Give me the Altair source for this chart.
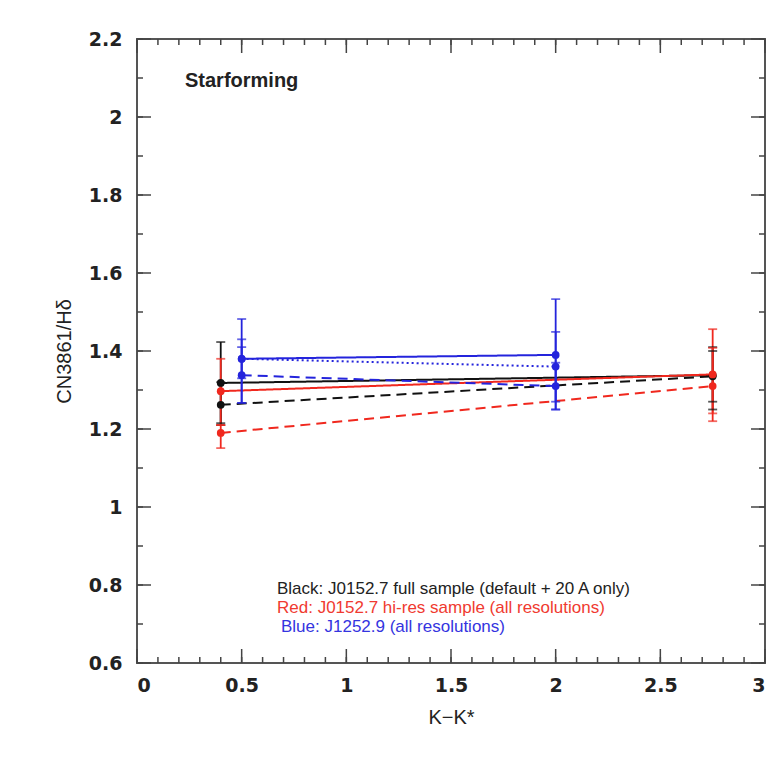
import altair as alt
import pandas as pd

# ---------------- data ----------------
black_x = [0.4, 2.75]
black_solid_y = [1.318, 1.338]
black_solid_lo = [1.215, 1.27]
black_solid_hi = [1.423, 1.41]
black_dashed_y = [1.262, 1.335]
black_dashed_lo = [1.21, 1.25]
black_dashed_hi = [1.32, 1.40]

red_x = [0.4, 2.75]
red_solid_y = [1.297, 1.34]
red_solid_lo = [1.21, 1.22]
red_solid_hi = [1.38, 1.456]
red_dashed_y = [1.19, 1.31]
red_dashed_lo = [1.151, 1.24]
red_dashed_hi = [1.21, 1.408]

blue_x = [0.5, 2.0]
blue_solid_y = [1.38, 1.39]
blue_solid_lo = [1.267, 1.25]
blue_solid_hi = [1.482, 1.533]
blue_dotted_y = [1.38, 1.36]
blue_dotted_lo = [1.33, 1.27]
blue_dotted_hi = [1.43, 1.449]
blue_dashed_y = [1.338, 1.31]
blue_dashed_lo = [1.267, 1.25]
blue_dashed_hi = [1.41, 1.37]

x_major = [0, 0.5, 1, 1.5, 2, 2.5, 3]
x_minor = [round(i * 0.1, 1) for i in range(31)]
y_major = [0.6, 0.8, 1.0, 1.2, 1.4, 1.6, 1.8, 2.0, 2.2]
y_minor = [round(0.6 + i * 0.1, 1) for i in range(17)]

legend_lines = [
    "Black: J0152.7 full sample (default + 20 A only)",
    "Red: J0152.7 hi-res sample (all resolutions)",
    "Blue: J1252.9 (all resolutions)",
]

# ---------------- build table ----------------
rows = []
def add(series, style, xs, ys, los, his):
    for x, y, lo, hi in zip(xs, ys, los, his):
        rows.append(dict(series=series, style=style, key=series + style,
                         x=x, y=y, lo=lo, hi=hi))

add("black", "solid", black_x, black_solid_y, black_solid_lo, black_solid_hi)
add("black", "dashed", black_x, black_dashed_y, black_dashed_lo, black_dashed_hi)
add("red", "solid", red_x, red_solid_y, red_solid_lo, red_solid_hi)
add("red", "dashed", red_x, red_dashed_y, red_dashed_lo, red_dashed_hi)
add("blue", "solid", blue_x, blue_solid_y, blue_solid_lo, blue_solid_hi)
add("blue", "dotted", blue_x, blue_dotted_y, blue_dotted_lo, blue_dotted_hi)
add("blue", "dashed", blue_x, blue_dashed_y, blue_dashed_lo, blue_dashed_hi)
df = pd.DataFrame(rows)

caps = pd.concat([
    df.assign(cap=df["lo"]),
    df.assign(cap=df["hi"]),
])

W, H = 628, 624
FONT = "Liberation Sans"
TFONT = "DejaVu Sans"

xscale = alt.Scale(domain=[0, 3], nice=False, zero=False)
yscale = alt.Scale(domain=[0.6, 2.2], nice=False, zero=False)
color = alt.Color("series:N", legend=None,
                  scale=alt.Scale(domain=["black", "red", "blue"],
                                  range=["#111111", "#f0281e", "#2424dc"]))
dash = alt.StrokeDash("style:N", legend=None,
                      scale=alt.Scale(domain=["solid", "dashed", "dotted"],
                                      range=[[1, 0], [10, 6], [2, 3]]))

x_axis = alt.Axis(values=x_major, format=".1~f", tickSize=0, domain=False,
                  grid=False, labelFont=TFONT, labelFontSize=19,
                  labelFontWeight="bold", labelColor="#222",
                  labelPadding=13, title="K\u2212K*", titleFont=FONT,
                  titleFontSize=20, titleFontWeight="normal",
                  titleColor="#222", titlePadding=12)
y_axis = alt.Axis(values=y_major, format=".1~f", tickSize=0, domain=False,
                  grid=False, labelFont=TFONT, labelFontSize=19,
                  labelFontWeight="bold", labelColor="#222",
                  labelPadding=15, title="CN3861/H\u03b4", titleFont=FONT,
                  titleFontSize=20, titleFontWeight="normal",
                  titleColor="#222", titlePadding=14)

def XQ(f):
    return alt.X(f, scale=xscale, axis=x_axis)

def YQ(f):
    return alt.Y(f, scale=yscale, axis=y_axis)

base = alt.Chart(df)
lines = base.mark_line(strokeWidth=2).encode(x=XQ("x:Q"), y=YQ("y:Q"), color=color,
                                             strokeDash=dash, detail="key:N")
bars = base.mark_rule(strokeWidth=1.8).encode(
    x=XQ("x:Q"), y=YQ("lo:Q"), y2="hi:Q", color=color)
capmarks = alt.Chart(caps).mark_tick(orient="horizontal", size=9,
                                     thickness=1.8).encode(
    x=XQ("x:Q"), y=YQ("cap:Q"), color=color)
points = base.mark_circle(size=60, opacity=1).encode(
    x=XQ("x:Q"), y=YQ("y:Q"), color=color)

# inward frame ticks
TC = "#444"
xmaj = pd.DataFrame({"t": x_major})
xmin = pd.DataFrame({"t": x_minor})
ymaj = pd.DataFrame({"t": y_major})
ymin = pd.DataFrame({"t": y_minor})

def xticks(d, L):
    b = alt.Chart(d).mark_rule(color=TC, strokeWidth=1.5)
    bot = b.encode(x=XQ("t:Q"), y=alt.value(H), y2=alt.value(H - L))
    top = b.encode(x=XQ("t:Q"), y=alt.value(0), y2=alt.value(L))
    return bot + top

def yticks(d, L):
    b = alt.Chart(d).mark_rule(color=TC, strokeWidth=1.5)
    lef = b.encode(y=YQ("t:Q"), x=alt.value(0), x2=alt.value(L))
    rig = b.encode(y=YQ("t:Q"), x=alt.value(W), x2=alt.value(W - L))
    return lef + rig

ticks = xticks(xmin, 6) + xticks(xmaj, 14) + yticks(ymin, 6) + yticks(ymaj, 14)

title_txt = alt.Chart(pd.DataFrame({"t": ["Starforming"]})).mark_text(
    font=FONT, fontSize=20, fontWeight="bold", color="#222", align="left",
    baseline="middle").encode(x=alt.value(48), y=alt.value(42), text="t:N")

leg_colors = ["#222222", "#f03a30", "#3434e0"]
leg_layers = []
for i, (txt, c) in enumerate(zip(legend_lines, leg_colors)):
    leg_layers.append(
        alt.Chart(pd.DataFrame({"t": [txt]})).mark_text(
            font=FONT, fontSize=17, align="left", baseline="middle", color=c
        ).encode(x=alt.value(140 + (4 if i == 2 else 0)),
                 y=alt.value(550 + 19 * i), text="t:N"))

chart = alt.layer(ticks, lines, bars, capmarks, points, title_txt,
                  *leg_layers).properties(
    width=W, height=H,
    autosize=alt.AutoSizeParams(type="none"),
    padding={"left": 129, "top": 31, "right": 2, "bottom": 105},
    background="white",
).configure_view(stroke="#555", strokeWidth=2).configure_axis(grid=False)

chart.save("out.html", embed_options={"renderer": "svg", "actions": False})
